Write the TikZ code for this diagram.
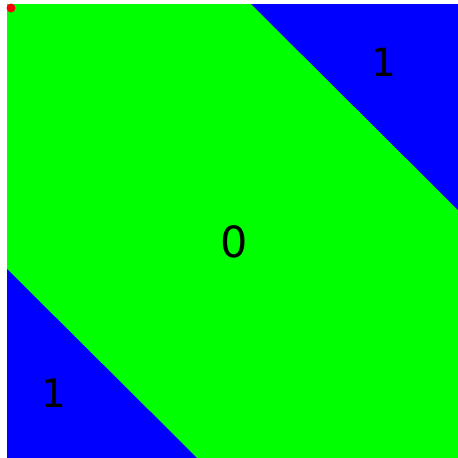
\documentclass[tikz,border=0pt]{standalone}
\usepackage{fontspec}
\setmainfont{DejaVu Sans}
\usetikzlibrary{positioning}

\begin{document}
\begin{tikzpicture}[x=1pt, y=-1pt]
            \tikzstyle{region} = [draw=none]
            \tikzstyle{label} = [inner sep=0pt, text=black]

            \useasboundingbox (0,0) rectangle (458,458);

            % class 0 band
            \fill [region, fill={rgb,255:red,0;green,255;blue,0}] (7,4) rectangle (458,458);
            % class 1 corners
            \fill [region, fill={rgb,255:red,0;green,0;blue,255}] (251,4) -- (458,4) -- (458,210) -- cycle;
            \fill [region, fill={rgb,255:red,0;green,0;blue,255}] (7,269) -- (7,458) -- (197,458) -- cycle;
            % origin marker
            \fill [red] (11,8) circle (4.5);

            \node (one top) [label, font=\fontsize{39}{39}\selectfont] at (384,62) {1};
            \node (zero) [label, font=\fontsize{43}{43}\selectfont] at (234,242) {0};
            \node (one bottom) [label, font=\fontsize{39}{39}\selectfont] at (54,393) {1};
        \end{tikzpicture}
\end{document}
